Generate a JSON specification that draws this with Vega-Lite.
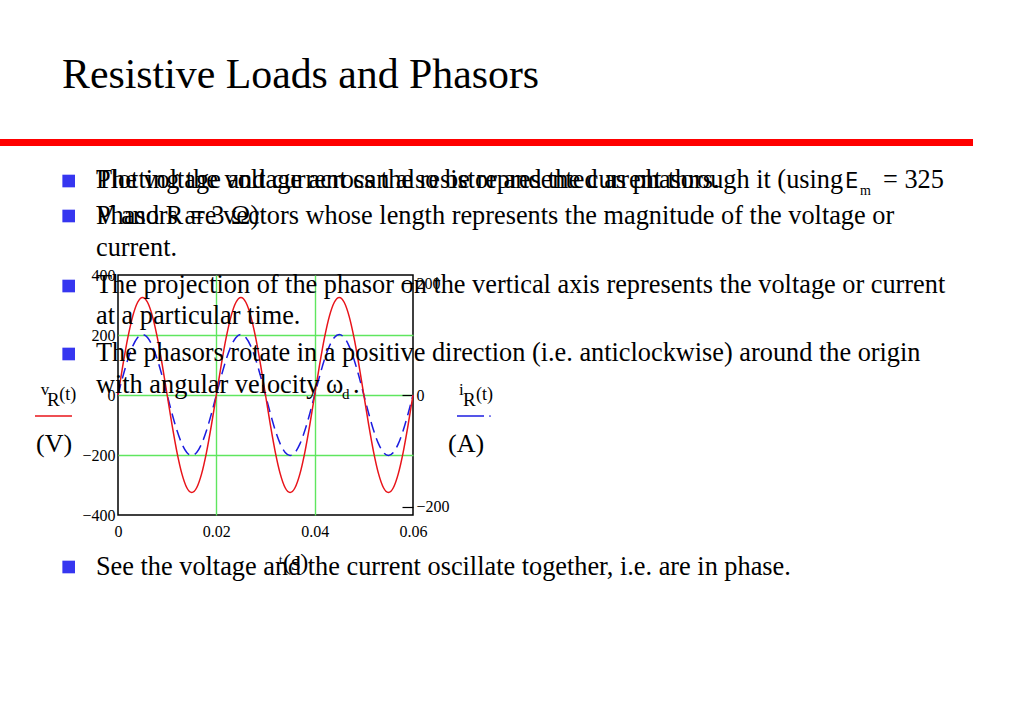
{
"$schema":"https://vega.github.io/schema/vega-lite/v6.json",
"width":295,"height":240,
"autosize":{"type":"none"},
"padding":{"left":118,"top":275,"right":611,"bottom":193},
"background":"white",
"config":{"view":{"stroke":"black","strokeWidth":1.5},
"axis":{"labelFont":"Liberation Serif","labelFontSize":16,"labelColor":"black","domain":false,"ticks":false,"tickSize":0,"labelFlush":false,"gridOpacity":1,"gridWidth":1.4}},
"datasets":{"wave":[
{"t":0,"v":0,"i":0},{"t":0.001,"v":100.4,"i":33.5},{"t":0.002,"v":191.0,"i":63.7},{"t":0.003,"v":262.9,"i":87.6},{"t":0.004,"v":309.1,"i":103.0},{"t":0.005,"v":325.0,"i":108.3},{"t":0.006,"v":309.1,"i":103.0},{"t":0.007,"v":262.9,"i":87.6},{"t":0.008,"v":191.0,"i":63.7},{"t":0.009,"v":100.4,"i":33.5},
{"t":0.010,"v":0,"i":0},{"t":0.011,"v":-100.4,"i":-33.5},{"t":0.012,"v":-191.0,"i":-63.7},{"t":0.013,"v":-262.9,"i":-87.6},{"t":0.014,"v":-309.1,"i":-103.0},{"t":0.015,"v":-325.0,"i":-108.3},{"t":0.016,"v":-309.1,"i":-103.0},{"t":0.017,"v":-262.9,"i":-87.6},{"t":0.018,"v":-191.0,"i":-63.7},{"t":0.019,"v":-100.4,"i":-33.5},
{"t":0.020,"v":0,"i":0},{"t":0.021,"v":100.4,"i":33.5},{"t":0.022,"v":191.0,"i":63.7},{"t":0.023,"v":262.9,"i":87.6},{"t":0.024,"v":309.1,"i":103.0},{"t":0.025,"v":325.0,"i":108.3},{"t":0.026,"v":309.1,"i":103.0},{"t":0.027,"v":262.9,"i":87.6},{"t":0.028,"v":191.0,"i":63.7},{"t":0.029,"v":100.4,"i":33.5},
{"t":0.030,"v":0,"i":0},{"t":0.031,"v":-100.4,"i":-33.5},{"t":0.032,"v":-191.0,"i":-63.7},{"t":0.033,"v":-262.9,"i":-87.6},{"t":0.034,"v":-309.1,"i":-103.0},{"t":0.035,"v":-325.0,"i":-108.3},{"t":0.036,"v":-309.1,"i":-103.0},{"t":0.037,"v":-262.9,"i":-87.6},{"t":0.038,"v":-191.0,"i":-63.7},{"t":0.039,"v":-100.4,"i":-33.5},
{"t":0.040,"v":0,"i":0},{"t":0.041,"v":100.4,"i":33.5},{"t":0.042,"v":191.0,"i":63.7},{"t":0.043,"v":262.9,"i":87.6},{"t":0.044,"v":309.1,"i":103.0},{"t":0.045,"v":325.0,"i":108.3},{"t":0.046,"v":309.1,"i":103.0},{"t":0.047,"v":262.9,"i":87.6},{"t":0.048,"v":191.0,"i":63.7},{"t":0.049,"v":100.4,"i":33.5},
{"t":0.050,"v":0,"i":0},{"t":0.051,"v":-100.4,"i":-33.5},{"t":0.052,"v":-191.0,"i":-63.7},{"t":0.053,"v":-262.9,"i":-87.6},{"t":0.054,"v":-309.1,"i":-103.0},{"t":0.055,"v":-325.0,"i":-108.3},{"t":0.056,"v":-309.1,"i":-103.0},{"t":0.057,"v":-262.9,"i":-87.6},{"t":0.058,"v":-191.0,"i":-63.7},{"t":0.059,"v":-100.4,"i":-33.5},
{"t":0.060,"v":0,"i":0}
]},
"resolve":{"scale":{"y":"independent"}},
"layer":[
{"data":{"name":"wave"},
 "mark":{"type":"line","color":"#1c1ce0","strokeWidth":1.5,"strokeDash":[11,6],"interpolate":"monotone"},
 "encoding":{
  "x":{"field":"t","type":"quantitative","title":null,"scale":{"domain":[0,0.06],"nice":false,"zero":false},
       "axis":{"values":[0,0.02,0.04,0.06],"format":"~g","labelFont":"Liberation Serif","labelFontSize":16,"grid":true,"gridColor":{"condition":{"test":"datum.value == 0 || datum.value == 0.06","value":"transparent"},"value":"#5fe65f"},"labelDx":3,"labelPadding":8}},
  "y":{"field":"i","type":"quantitative","title":null,"scale":{"domain":[-215,215],"nice":false,"zero":false},
       "axis":{"orient":"right","values":[-200,0,200],"labelFont":"Liberation Serif","labelFontSize":16,"grid":false,"ticks":true,"tickSize":-11,"tickColor":"black","tickWidth":1.2,"labelPadding":14}}}},
{"layer":[
 {"data":{"name":"wave"},
  "mark":{"type":"line","color":"#e8141a","strokeWidth":1.5,"interpolate":"monotone"},
  "encoding":{
   "x":{"field":"t","type":"quantitative","title":null,"scale":{"domain":[0,0.06],"nice":false,"zero":false},
        "axis":{"values":[0,0.02,0.04,0.06],"format":"~g","labelFont":"Liberation Serif","labelFontSize":16,"grid":true,"gridColor":{"condition":{"test":"datum.value == 0 || datum.value == 0.06","value":"transparent"},"value":"#5fe65f"},"labelDx":3,"labelPadding":8}},
   "y":{"field":"v","type":"quantitative","title":null,"scale":{"domain":[-400,400],"nice":false,"zero":false},
        "axis":{"orient":"left","values":[-400,-200,0,200,400],"labelFont":"Liberation Serif","labelFontSize":16,"grid":true,"gridColor":{"condition":{"test":"abs(datum.value) == 400","value":"transparent"},"value":"#5fe65f"},"labelPadding":3}}}},
 {"data":{"values":[{"name":"bar"}]},"mark":{"type":"rule","color":"#ff0000","strokeWidth":7,"clip":false},
  "encoding":{"x":{"datum":-0.024},"x2":{"datum":0.1739},"y":{"datum":841.7}}},
 {"data":{"values":[{"name":"vkey"}]},"mark":{"type":"rule","color":"#e8141a","strokeWidth":1.5,"clip":false},
  "encoding":{"x":{"datum":-0.01688},"x2":{"datum":-0.00936},"y":{"datum":-70}}},
 {"data":{"values":[{"name":"ikey"}]},"mark":{"type":"rule","color":"#1c1ce0","strokeWidth":1.5,"clip":false},
  "encoding":{"x":{"datum":0.06895},"x2":{"datum":0.07444},"y":{"datum":-70}}},
 {"data":{"values":[{"name":"idot"}]},"mark":{"type":"point","shape":"circle","filled":true,"opacity":1,"size":3,"color":"#1c1ce0","clip":false},"encoding":{"x":{"datum":0.07566},"y":{"datum":-70}}},
 {"data":{"values":[{"b":1}]},"mark":{"type":"point","shape":"square","filled":true,"opacity":1,"size":160,"color":"#3636f0","clip":false},"encoding":{"x":{"datum":-0.010027},"y":{"datum":713.3}}},
 {"data":{"values":[{"b":2}]},"mark":{"type":"point","shape":"square","filled":true,"opacity":1,"size":160,"color":"#3636f0","clip":false},"encoding":{"x":{"datum":-0.010027},"y":{"datum":596.7}}},
 {"data":{"values":[{"b":3}]},"mark":{"type":"point","shape":"square","filled":true,"opacity":1,"size":160,"color":"#3636f0","clip":false},"encoding":{"x":{"datum":-0.010027},"y":{"datum":363.3}}},
 {"data":{"values":[{"b":4}]},"mark":{"type":"point","shape":"square","filled":true,"opacity":1,"size":160,"color":"#3636f0","clip":false},"encoding":{"x":{"datum":-0.010027},"y":{"datum":136.7}}},
 {"data":{"values":[{"b":5}]},"mark":{"type":"point","shape":"square","filled":true,"opacity":1,"size":160,"color":"#3636f0","clip":false},"encoding":{"x":{"datum":-0.010027},"y":{"datum":-573.3}}},
 {"data":{"values":[{"label":"Resistive Loads and Phasors"}]},"mark":{"type":"text","align":"left","baseline":"alphabetic","font":"Liberation Serif","fontSize":41.8,"color":"black","clip":false},"encoding":{"text":{"field":"label"},"x":{"datum":-0.01139},"y":{"datum":1023.3}}},
 {"data":{"values":[{"label":"Plotting the voltage across the resistor and the current through it (using"}]},"mark":{"type":"text","align":"left","baseline":"alphabetic","font":"Liberation Serif","fontSize":26.3,"color":"black","clip":false},"encoding":{"text":{"field":"label"},"x":{"datum":-0.0044746},"y":{"datum":690}}},
 {"data":{"values":[{"label":"E"}]},"mark":{"type":"text","align":"left","baseline":"alphabetic","font":"DejaVu Sans","fontSize":21,"color":"black","clip":false},"encoding":{"text":{"field":"label"},"x":{"datum":0.147864},"y":{"datum":690}}},
 {"data":{"values":[{"label":"m"}]},"mark":{"type":"text","align":"left","baseline":"alphabetic","font":"Liberation Serif","fontSize":14,"color":"black","clip":false},"encoding":{"text":{"field":"label"},"x":{"datum":0.150915},"y":{"datum":666.7}}},
 {"data":{"values":[{"label":"= 325"}]},"mark":{"type":"text","align":"left","baseline":"alphabetic","font":"Liberation Serif","fontSize":26.3,"color":"black","clip":false},"encoding":{"text":{"field":"label"},"x":{"datum":0.155593},"y":{"datum":690}}},
 {"data":{"values":[{"label":"The voltage and current can also be represented as phasors."}]},"mark":{"type":"text","align":"left","baseline":"alphabetic","font":"Liberation Serif","fontSize":26.3,"color":"black","clip":false},"encoding":{"text":{"field":"label"},"x":{"datum":-0.0044746},"y":{"datum":690}}},
 {"data":{"values":[{"label":"V and R = 3 Ω)"}]},"mark":{"type":"text","align":"left","baseline":"alphabetic","font":"Liberation Serif","fontSize":26.3,"color":"black","clip":false},"encoding":{"text":{"field":"label"},"x":{"datum":-0.0044746},"y":{"datum":570}}},
 {"data":{"values":[{"label":"Phasors are vectors whose length represents the magnitude of the voltage or"}]},"mark":{"type":"text","align":"left","baseline":"alphabetic","font":"Liberation Serif","fontSize":26.3,"color":"black","clip":false},"encoding":{"text":{"field":"label"},"x":{"datum":-0.0044746},"y":{"datum":570}}},
 {"data":{"values":[{"label":"current."}]},"mark":{"type":"text","align":"left","baseline":"alphabetic","font":"Liberation Serif","fontSize":26.3,"color":"black","clip":false},"encoding":{"text":{"field":"label"},"x":{"datum":-0.0044746},"y":{"datum":463.3}}},
 {"data":{"values":[{"label":"The projection of the phasor on the vertical axis represents the voltage or current"}]},"mark":{"type":"text","align":"left","baseline":"alphabetic","font":"Liberation Serif","fontSize":26.3,"color":"black","clip":false},"encoding":{"text":{"field":"label"},"x":{"datum":-0.0044746},"y":{"datum":340}}},
 {"data":{"values":[{"label":"at a particular time."}]},"mark":{"type":"text","align":"left","baseline":"alphabetic","font":"Liberation Serif","fontSize":26.3,"color":"black","clip":false},"encoding":{"text":{"field":"label"},"x":{"datum":-0.0044746},"y":{"datum":236.7}}},
 {"data":{"values":[{"label":"The phasors rotate in a positive direction (i.e. anticlockwise) around the origin"}]},"mark":{"type":"text","align":"left","baseline":"alphabetic","font":"Liberation Serif","fontSize":26.3,"color":"black","clip":false},"encoding":{"text":{"field":"label"},"x":{"datum":-0.0044746},"y":{"datum":113.3}}},
 {"data":{"values":[{"label":"with angular velocity ω"}]},"mark":{"type":"text","align":"left","baseline":"alphabetic","font":"Liberation Serif","fontSize":26.3,"color":"black","clip":false},"encoding":{"text":{"field":"label"},"x":{"datum":-0.0044746},"y":{"datum":6.7}}},
 {"data":{"values":[{"label":"d"}]},"mark":{"type":"text","align":"left","baseline":"alphabetic","font":"Liberation Serif","fontSize":15,"color":"black","clip":false},"encoding":{"text":{"field":"label"},"x":{"datum":0.045559},"y":{"datum":-13.3}}},
 {"data":{"values":[{"label":"."}]},"mark":{"type":"text","align":"left","baseline":"alphabetic","font":"Liberation Serif","fontSize":26.3,"color":"black","clip":false},"encoding":{"text":{"field":"label"},"x":{"datum":0.047797},"y":{"datum":6.7}}},
 {"data":{"values":[{"label":"See the voltage and the current oscillate together, i.e. are in phase."}]},"mark":{"type":"text","align":"left","baseline":"alphabetic","font":"Liberation Serif","fontSize":26.3,"color":"black","clip":false},"encoding":{"text":{"field":"label"},"x":{"datum":-0.0044746},"y":{"datum":-600}}},
 {"data":{"values":[{"label":"v"}]},"mark":{"type":"text","align":"left","baseline":"alphabetic","font":"Liberation Serif","fontSize":17,"color":"black","clip":false},"encoding":{"text":{"field":"label"},"x":{"datum":-0.015722},"y":{"datum":0}}},
 {"data":{"values":[{"label":"R"}]},"mark":{"type":"text","align":"left","baseline":"alphabetic","font":"Liberation Serif","fontSize":19,"color":"black","clip":false},"encoding":{"text":{"field":"label"},"x":{"datum":-0.014441},"y":{"datum":-36.7}}},
 {"data":{"values":[{"label":"(t)"}]},"mark":{"type":"text","align":"left","baseline":"alphabetic","font":"Liberation Serif","fontSize":18,"color":"black","clip":false},"encoding":{"text":{"field":"label"},"x":{"datum":-0.011939},"y":{"datum":-16.7}}},
 {"data":{"values":[{"label":"i"}]},"mark":{"type":"text","align":"left","baseline":"alphabetic","font":"Liberation Serif","fontSize":17,"color":"black","clip":false},"encoding":{"text":{"field":"label"},"x":{"datum":0.069356},"y":{"datum":0}}},
 {"data":{"values":[{"label":"R"}]},"mark":{"type":"text","align":"left","baseline":"alphabetic","font":"Liberation Serif","fontSize":19,"color":"black","clip":false},"encoding":{"text":{"field":"label"},"x":{"datum":0.070169},"y":{"datum":-36.7}}},
 {"data":{"values":[{"label":"(t)"}]},"mark":{"type":"text","align":"left","baseline":"alphabetic","font":"Liberation Serif","fontSize":18,"color":"black","clip":false},"encoding":{"text":{"field":"label"},"x":{"datum":0.072814},"y":{"datum":-16.7}}},
 {"data":{"values":[{"label":"(V)"}]},"mark":{"type":"text","align":"left","baseline":"alphabetic","font":"Liberation Serif","fontSize":26,"color":"black","clip":false},"encoding":{"text":{"field":"label"},"x":{"datum":-0.016678},"y":{"datum":-190}}},
 {"data":{"values":[{"label":"(A)"}]},"mark":{"type":"text","align":"left","baseline":"alphabetic","font":"Liberation Serif","fontSize":26,"color":"black","clip":false},"encoding":{"text":{"field":"label"},"x":{"datum":0.067119},"y":{"datum":-190}}},
 {"data":{"values":[{"label":"t"}]},"mark":{"type":"text","align":"left","baseline":"alphabetic","font":"Liberation Serif","fontSize":12,"color":"black","clip":false},"encoding":{"text":{"field":"label"},"x":{"datum":0.032746},"y":{"datum":-563.3}}},
 {"data":{"values":[{"label":"(s)"}]},"mark":{"type":"text","align":"left","baseline":"alphabetic","font":"Liberation Serif","fontSize":24,"color":"black","clip":false},"encoding":{"text":{"field":"label"},"x":{"datum":0.033559},"y":{"datum":-583.3}}}
]}
]
}
